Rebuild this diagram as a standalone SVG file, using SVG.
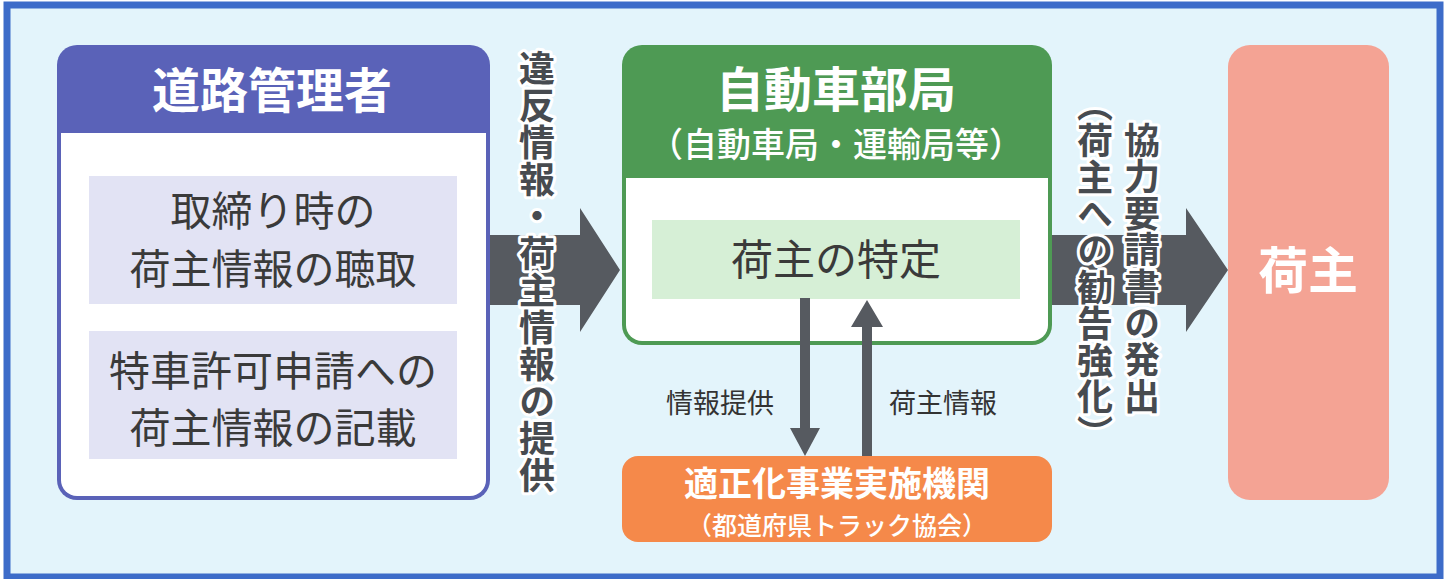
<svg xmlns="http://www.w3.org/2000/svg" width="1452" height="579" viewBox="0 0 1452 579">
  <style>
    .jp { font-family: "Noto Sans CJK JP", "Noto Sans CJK SC", sans-serif; }
    .hdr { font-weight: 700; fill: #ffffff; text-anchor: middle; }
    .sub { font-weight: 500; fill: #ffffff; text-anchor: middle; }
    .body { font-weight: 400; fill: #3a3a3a; text-anchor: middle; }
    .vlab { font-weight: 700; fill: #474b50; stroke: #ffffff; stroke-width: 6; stroke-linejoin: round; paint-order: stroke; text-anchor: start; writing-mode: vertical-rl; font-size: 36px; }
    .half { font-feature-settings: "vhal" 1; }
    .lab { font-weight: 400; fill: #333333; text-anchor: middle; font-size: 27px; }
    .arrow { fill: #565a60; }
  </style>
  <rect x="0" y="0" width="1452" height="579" fill="#ffffff"/>
  <rect id="frame" x="7" y="5" width="1433" height="572" fill="#e3f4fb" stroke="#3d6cc9" stroke-width="7"/>

  <g id="node-road">
    <rect x="57" y="45" width="433" height="455" rx="20" fill="#5a62b8"/>
    <rect x="61" y="133" width="425" height="363" rx="16" fill="#ffffff"/>
    <rect x="61" y="133" width="425" height="24" fill="#ffffff"/>
    <text class="jp hdr" x="272" y="108" font-size="48">道路管理者</text>
    <rect x="89" y="176" width="368" height="128" fill="#e2e3f4"/>
    <text class="jp body" x="273" y="226" font-size="41">取締り時の</text>
    <text class="jp body" x="273" y="284" font-size="41">荷主情報の聴取</text>
    <rect x="89" y="331" width="368" height="128" fill="#e2e3f4"/>
    <text class="jp body" x="273" y="386" font-size="41">特車許可申請への</text>
    <text class="jp body" x="273" y="443" font-size="41">荷主情報の記載</text>
  </g>

  <g id="node-auto">
    <rect x="622" y="45" width="430" height="300" rx="20" fill="#4e9a54"/>
    <rect x="626" y="178" width="422" height="163" rx="16" fill="#ffffff"/>
    <rect x="626" y="178" width="422" height="24" fill="#ffffff"/>
    <text class="jp hdr" x="836" y="107" font-size="48">自動車部局</text>
    <text class="jp sub" x="836" y="157" font-size="34">（自動車局・運輸局等）</text>
    <rect x="652" y="220" width="368" height="79" fill="#d6efd6"/>
    <text class="jp body" x="836" y="275" font-size="42">荷主の特定</text>
  </g>

  <g id="node-agency">
    <rect x="622" y="456" width="430" height="86" rx="16" fill="#f5894a"/>
    <text class="jp hdr" x="837" y="496" font-size="34">適正化事業実施機関</text>
    <text class="jp sub" x="837" y="535" font-size="25">（都道府県トラック協会）</text>
  </g>

  <g id="node-shipper">
    <rect x="1228" y="45" width="161" height="455" rx="22" fill="#f4a394"/>
    <text class="jp hdr" x="1308" y="289" font-size="50">荷主</text>
  </g>

  <g id="connectors">
    <polygon class="arrow" points="490,235 580,235 580,208 620,270 580,332 580,305 490,305"/>
    <polygon class="arrow" points="1052,235 1186,235 1186,208 1228,270 1186,332 1186,305 1052,305"/>
    <polygon class="arrow" points="800,298 810,298 810,428 820,428 805,456 790,428 800,428"/>
    <polygon class="arrow" points="862,456 872,456 872,327 883,327 867,300 851,327 862,327"/>
    <text class="jp vlab" x="537" y="50" letter-spacing="1">違反情報・荷主情報の提供</text>
    <text class="jp vlab" x="1142" y="122" letter-spacing="0.6">協力要請書の発出</text>
    <text class="jp vlab" x="1095" y="104" letter-spacing="0.6"><tspan class="half">（</tspan>荷主への勧告強化<tspan class="half">）</tspan></text>
    <text class="jp lab" x="720" y="413">情報提供</text>
    <text class="jp lab" x="943" y="413">荷主情報</text>
  </g>
</svg>
